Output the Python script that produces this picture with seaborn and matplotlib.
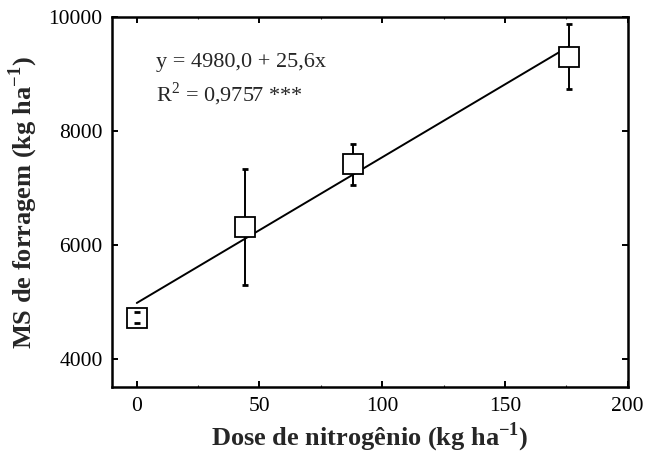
import matplotlib
matplotlib.use("Agg")
import matplotlib.pyplot as plt
import seaborn as sns
import numpy as np
import pandas as pd

# data
dose = [0, 44, 88, 176]
ms_forragem = [4720, 6310, 7415, 9310]
erro = [100, 1020, 360, 575]

# fitted model shown in the chart
intercepto = 4980.0
inclinacao = 25.6
fit_x = [0, 176]

sns.set_style("ticks")
plt.rcParams['font.family'] = ['Liberation Serif', 'DejaVu Serif']
plt.rcParams['mathtext.fontset'] = 'custom'
plt.rcParams['mathtext.rm'] = 'Liberation Serif'
plt.rcParams['mathtext.bf'] = 'Liberation Serif:bold'
plt.rcParams['xtick.direction'] = 'in'
plt.rcParams['ytick.direction'] = 'in'

df = pd.DataFrame({"dose": dose, "ms": ms_forragem, "err": erro})
fit = pd.DataFrame({"x": fit_x})
fit["y"] = intercepto + inclinacao * fit["x"]

fig = plt.figure(figsize=(6.45, 4.55), dpi=100)
ax = fig.add_axes([0.174, 0.149, 0.799, 0.813])

# regression line
sns.lineplot(x="x", y="y", data=fit, ax=ax, color="black", linewidth=1.4, zorder=1)

# error bars (caps above the markers)
eb = ax.errorbar(df["dose"], df["ms"], yerr=df["err"], fmt="none", ecolor="black",
                 elinewidth=1.4, capsize=2.5, capthick=2, zorder=2)
for cap in eb[1]:
    cap.set_zorder(4)

# square markers
ax.plot(df["dose"], df["ms"], linestyle="none", marker="s", markersize=14.5,
        markerfacecolor="white", markeredgecolor="black", markeredgewidth=1.3, zorder=3)

ax.set_xlim(-10, 200)
ax.set_ylim(3500, 10000)
ax.set_xticks([0, 50, 100, 150, 200])
ax.set_yticks([4000, 6000, 8000, 10000])
ax.set_xticks([25, 75, 125, 175], minor=True)

ax.tick_params(which="major", top=True, right=True, length=4, width=1.4,
               labelsize=15.5, colors="black", pad=7)
ax.tick_params(which="minor", top=True, right=True, length=1.2, width=0.8)
for s in ax.spines.values():
    s.set_linewidth(1.8)
    s.set_color("black")
    s.set_visible(True)

ax.set_xlabel(r"Dose de nitrogênio (kg ha$^{\mathbf{-1}}$)", fontsize=19,
              fontweight="bold", labelpad=3)
ax.set_ylabel(r"MS de forragem (kg ha$^{\mathbf{-1}}$)", fontsize=19,
              fontweight="bold", labelpad=6)

ax.text(8, 9200, "y = 4980,0 + 25,6x", fontsize=16, va="center", ha="left")
ax.text(8, 8640, r"R$^2$ = 0,9757 ***", fontsize=16, va="center", ha="left")

fig.savefig("out.png", dpi=100, facecolor="white")
